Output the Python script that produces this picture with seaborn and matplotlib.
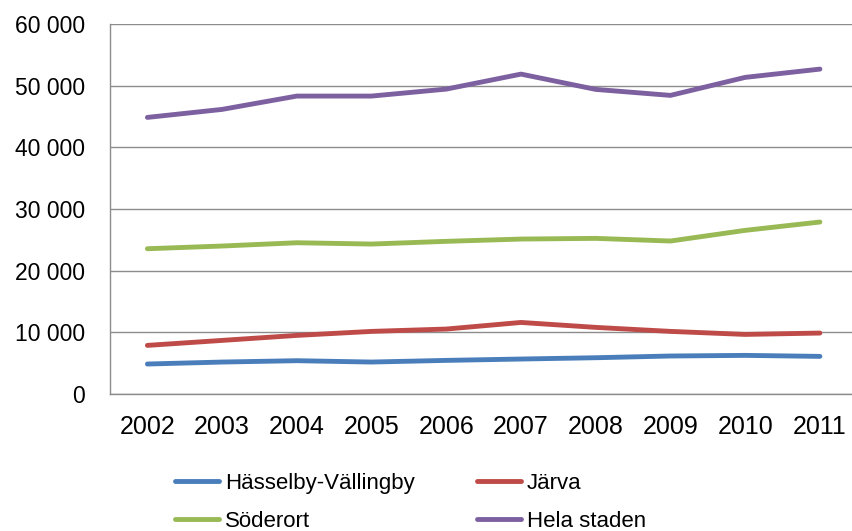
import pandas as pd
import seaborn as sns
import matplotlib.pyplot as plt
from matplotlib.ticker import FuncFormatter, FixedLocator

# Data
years = [2002, 2003, 2004, 2005, 2006, 2007, 2008, 2009, 2010, 2011]
hasselby = [4860, 5180, 5400, 5180, 5450, 5670, 5880, 6160, 6260, 6100]
jarva = [7880, 8690, 9500, 10150, 10530, 11600, 10800, 10150, 9660, 9880]
soderort = [23550, 23990, 24520, 24310, 24750, 25120, 25230, 24800, 26530, 27880]
hela = [44840, 46140, 48300, 48300, 49430, 51860, 49380, 48410, 51330, 52670]

series = ['Hässelby-Vällingby', 'Järva', 'Söderort', 'Hela staden']
colors = ['#4A7EBB', '#BE4B48', '#98B954', '#7D60A0']

df = pd.DataFrame({
    'pos': list(range(len(years))) * 4,
    'value': hasselby + jarva + soderort + hela,
    'serie': [s for s in series for _ in years],
})

sns.set_style('white')
plt.rcParams['font.family'] = ['Liberation Sans', 'DejaVu Sans']
plt.rcParams['text.color'] = 'black'
plt.rcParams['xtick.labelcolor'] = 'black'
plt.rcParams['ytick.labelcolor'] = 'black'

fig = plt.figure(figsize=(8.53, 5.31), dpi=100)
ax = fig.add_axes([0.129, 0.258, 0.876, 0.697])

sns.lineplot(data=df, x='pos', y='value', hue='serie', palette=colors,
             linewidth=3.5, ax=ax, solid_capstyle='round', legend=True)

ax.set_xlim(-0.5, len(years) - 0.5)
ax.set_ylim(0, 60000)
ax.set_yticks(range(0, 60001, 10000))
ax.yaxis.set_major_formatter(FuncFormatter(lambda v, p: f'{int(v):,}'.replace(',', ' ')))
ax.set_xticks(range(len(years)))
ax.set_xticklabels([str(y) for y in years])
ax.xaxis.set_minor_locator(FixedLocator([i - 0.5 for i in range(len(years) + 1)]))

ax.grid(axis='y', color='#8c8c8c', linewidth=1)
ax.set_axisbelow(True)
for s in ['top', 'right']:
    ax.spines[s].set_visible(False)
for s in ['left', 'bottom']:
    ax.spines[s].set_color('#8c8c8c')
    ax.spines[s].set_linewidth(1)

ax.tick_params(axis='x', which='major', length=0, labelsize=18, pad=15, labelcolor='black')
ax.tick_params(axis='x', which='minor', length=6, color='#8c8c8c', direction='out')
ax.tick_params(axis='y', length=6, color='#8c8c8c', direction='out', labelsize=16.5, pad=12,
               labelcolor='black')

ax.set_xlabel('')
ax.set_ylabel('')

# legend filled row by row like the original
handles, labels = ax.get_legend_handles_labels()
ax.get_legend().remove()
order = [0, 2, 1, 3]
leg = fig.legend([handles[i] for i in order], [labels[i] for i in order],
                 loc='upper left', bbox_to_anchor=(0.205, 0.11), ncol=2, frameon=False,
                 fontsize=16, handlelength=2.0, handletextpad=0.25, columnspacing=2.8,
                 labelspacing=0.77, borderpad=0, borderaxespad=0)
for text in leg.get_texts():
    text.set_color('black')
for line in leg.get_lines():
    line.set_linewidth(3.5)

fig.savefig('out.png', dpi=100)
